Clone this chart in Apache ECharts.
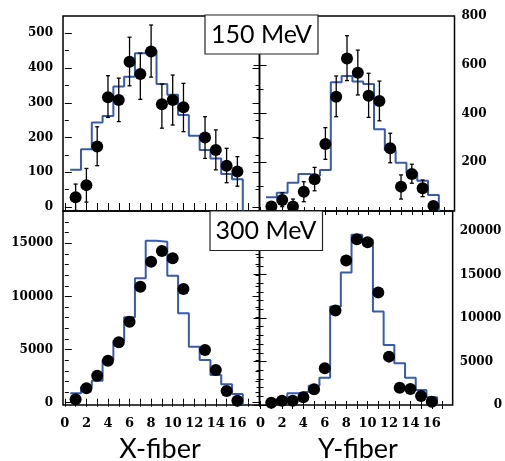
<!DOCTYPE html>
<html><head><meta charset="utf-8">
<script src="https://cdn.jsdelivr.net/npm/echarts@6/dist/echarts.min.js"></script>
<style>html,body{margin:0;padding:0;background:#fff}#c{width:505px;height:461px}</style>
</head><body><div id="c"></div>
<script>
// fiber numbers
const fibers = [1,2,3,4,5,6,7,8,9,10,11,12,13,14,15,16];
const xTickLabels = [0,2,4,6,8,10,12,14,16];

// 150 MeV, X-fiber
const x150Data = [28,63,174,316,308,418,383,448,296,308,287,null,200,164,119,102];
const x150ErrLo = [-10,14,119,258,246,349,310,374,227,236,217,null,140,107,70,60];
const x150ErrHi = [66,111,231,378,371,489,443,524,354,380,356,null,260,222,169,145];
const x150Sim  = [107,166,243,262,347,375,443,450,354,323,265,205,164,140,95,80];
const x150Ticks = [0,100,200,300,400,500];

// 150 MeV, Y-fiber
const y150Data = [18,45,18,79,130,275,469,626,567,473,451,257,100,152,93,21];
const y150ErrLo = [0,18,1,38,83,212,387,535,476,384,370,198,49,114,59,5];
const y150ErrHi = [38,75,49,120,179,342,554,719,660,565,533,319,148,192,127,38];
const y150Sim  = [56,75,116,152,145,168,528,554,531,521,335,250,198,157,124,66];
const y150Ticks = [200,400,600,800];

// 300 MeV, X-fiber
const x300Data = [320,1355,2540,3950,5680,7620,10915,13270,14275,13585,10700,null,4960,3080,1100,190];
const x300Sim  = [885,1505,2070,4020,5835,8035,11705,15245,15150,11950,8410,5270,4020,2605,1730,820];
const x300Ticks = [0,5000,10000,15000];

// 300 MeV, Y-fiber
const y300Data = [265,495,495,886,1806,4220,10850,16600,19060,18720,12925,5560,1990,1840,1035,380];
const y300Sim  = [380,655,1345,1530,2220,3145,11315,15225,19560,18985,10740,6905,4800,3145,1725,885];
const y300Ticks = [0,5000,10000,15000,20000];

const BLUE = '#3a5bab';
const SERIF = 'DejaVu Serif';

const grids = [
  {left:63, top:16, width:196.5, height:195},
  {left:259.5, top:16, width:195, height:195},
  {left:63, top:211, width:196.5, height:194},
  {left:259.5, top:211, width:195, height:194}
];
const xr = [[-0.17,18.05],[-0.1,17.95],[-0.17,18.05],[-0.1,17.95]];
const yr = [[-11.5,550],[0,800],[-216,18040],[0,22300]];
const ylabels = [x150Ticks, y150Ticks, x300Ticks, y300Ticks];
const yminor = [
  [50,150,250,350,450],
  [100,300,500,700],
  [1000,2000,3000,4000,6000,7000,8000,9000,11000,12000,13000,14000,16000,17000],
  [1000,2000,3000,4000,6000,7000,8000,9000,11000,12000,13000,14000,16000,17000,18000,19000,21000,22000]
];
const ints = [];
for (let i=0;i<=18;i++) ints.push(i);

const xAxes = [], yAxes = [];
grids.forEach((g,gi)=>{
  const isBottom = gi>=2;
  const isRight = gi%2===1;
  xAxes.push({type:'value', gridIndex:gi, position:'bottom', min:xr[gi][0], max:xr[gi][1],
    axisLine:{show:false}, splitLine:{show:false},
    axisTick:{show:true, inside:true, length:4, lineStyle:{color:'#000',width:1}, customValues: ints},
    axisLabel:{show:isBottom, customValues: xTickLabels, margin:12, hideOverlap:false,
      fontFamily:SERIF, fontWeight:'bold', fontSize:13, color:'#000'}});
  xAxes.push({type:'value', gridIndex:gi, position:'top', min:xr[gi][0], max:xr[gi][1],
    axisLine:{show:false}, splitLine:{show:false},
    axisTick:{show:true, inside:true, length:4, lineStyle:{color:'#000',width:1}, customValues: ints},
    axisLabel:{show:false}});
  const labSide = isRight ? 'right' : 'left';
  const otherSide = isRight ? 'left' : 'right';
  yAxes.push({type:'value', gridIndex:gi, position:labSide, min:yr[gi][0], max:yr[gi][1],
    axisLine:{show:false}, splitLine:{show:false},
    axisTick:{show:true, inside:true, length:7, lineStyle:{color:'#000',width:1}, customValues: ylabels[gi]},
    axisLabel:{show:true, customValues: ylabels[gi], margin: isRight?7:10,
      fontFamily:SERIF, fontWeight:'bold', fontSize:12, color:'#000',
      align: isRight?'left':'right',
      formatter: (v)=> (gi===3 && v===0) ? '{z|0}' : String(v),
      rich:{
        z:{fontFamily:SERIF, fontWeight:'bold', fontSize:12, color:'#000', padding:[0,0,0,34]}
      }}});
  yAxes.push({type:'value', gridIndex:gi, position:labSide, min:yr[gi][0], max:yr[gi][1],
    axisLine:{show:false}, splitLine:{show:false},
    axisTick:{show:true, inside:true, length:4, lineStyle:{color:'#000',width:1}, customValues: yminor[gi]},
    axisLabel:{show:false}});
  yAxes.push({type:'value', gridIndex:gi, position:otherSide, min:yr[gi][0], max:yr[gi][1],
    axisLine:{show:false}, splitLine:{show:false},
    axisTick:{show:true, inside:true, length:7, lineStyle:{color:'#000',width:1}, customValues: ylabels[gi]},
    axisLabel:{show:false}});
  yAxes.push({type:'value', gridIndex:gi, position:otherSide, min:yr[gi][0], max:yr[gi][1],
    axisLine:{show:false}, splitLine:{show:false},
    axisTick:{show:true, inside:true, length:4, lineStyle:{color:'#000',width:1}, customValues: yminor[gi]},
    axisLabel:{show:false}});
});

function stepData(sim, ymin){
  const d = sim.map((v,i)=>[fibers[i]-0.5, v]);
  const last = fibers[fibers.length-1]+0.5;
  d.push([last, sim[sim.length-1]]);
  d.push([last, ymin]);
  return d;
}
function pts(vals){ return vals.map((v,i)=> v==null ? null : [fibers[i], v]).filter(p=>p); }
function errs(lo,hi){ return lo.map((l,i)=> l==null ? null : [fibers[i], l, hi[i]]).filter(p=>p); }

const series = [];
const sets = [
  {sim:x150Sim, data:x150Data, lo:x150ErrLo, hi:x150ErrHi},
  {sim:y150Sim, data:y150Data, lo:y150ErrLo, hi:y150ErrHi},
  {sim:x300Sim, data:x300Data},
  {sim:y300Sim, data:y300Data}
];
sets.forEach((s,gi)=>{
  const xi = gi*2, yi = gi*4;
  series.push({type:'line', xAxisIndex:xi, yAxisIndex:yi, step:'end', symbol:'none',
    data: stepData(s.sim, yr[gi][0]), lineStyle:{color:BLUE, width:2}, z:2, animation:false});
  if (s.lo){
    series.push({type:'custom', xAxisIndex:xi, yAxisIndex:yi, z:3, animation:false,
      data: errs(s.lo, s.hi),
      renderItem:(params, api)=>{
        const x = api.value(0);
        const a = api.coord([x, api.value(1)]);
        const b = api.coord([x, api.value(2)]);
        const st = {stroke:'#000', lineWidth:1.3};
        return {type:'group', children:[
          {type:'line', shape:{x1:a[0],y1:a[1],x2:b[0],y2:b[1]}, style:st},
          {type:'line', shape:{x1:a[0]-2,y1:a[1],x2:a[0]+2,y2:a[1]}, style:st},
          {type:'line', shape:{x1:b[0]-2,y1:b[1],x2:b[0]+2,y2:b[1]}, style:st}
        ]};
      }});
  }
  series.push({type:'scatter', xAxisIndex:xi, yAxisIndex:yi, symbol:'circle', symbolSize:12,
    itemStyle:{color:'#000', opacity:1}, data: pts(s.data), z:4, animation:false});
});

const boxTxt = {fontFamily:'Lato', fontSize:25, fill:'#000'};
const option = {
  animation:false,
  grid: grids.map(g=>({...g, show:true, borderColor:'#000', borderWidth:1.5, backgroundColor:'transparent'})),
  xAxis: xAxes, yAxis: yAxes, series,
  graphic: [
    {type:'rect', shape:{x:205, y:15, width:113, height:39}, style:{fill:'#fff', stroke:'#222', lineWidth:1.2}, z:100},
    {type:'text', x:261.5, y:35, style:{text:'150 MeV', ...boxTxt, align:'center', verticalAlign:'middle'}, z:101},
    {type:'rect', shape:{x:210, y:211, width:112.5, height:39.5}, style:{fill:'#fff', stroke:'#222', lineWidth:1.2}, z:100},
    {type:'text', x:266, y:231, style:{text:'300 MeV', ...boxTxt, align:'center', verticalAlign:'middle'}, z:101},
    {type:'text', x:160, y:449, style:{text:'X-fiber', fontFamily:'Lato', fontSize:27, fill:'#000', align:'center', verticalAlign:'middle'}},
    {type:'text', x:358, y:449, style:{text:'Y-fiber', fontFamily:'Lato', fontSize:27, fill:'#000', align:'center', verticalAlign:'middle'}}
  ]
};
const chart = echarts.init(document.getElementById('c'), null, {renderer:'canvas'});
chart.setOption(option);
</script></body></html>
